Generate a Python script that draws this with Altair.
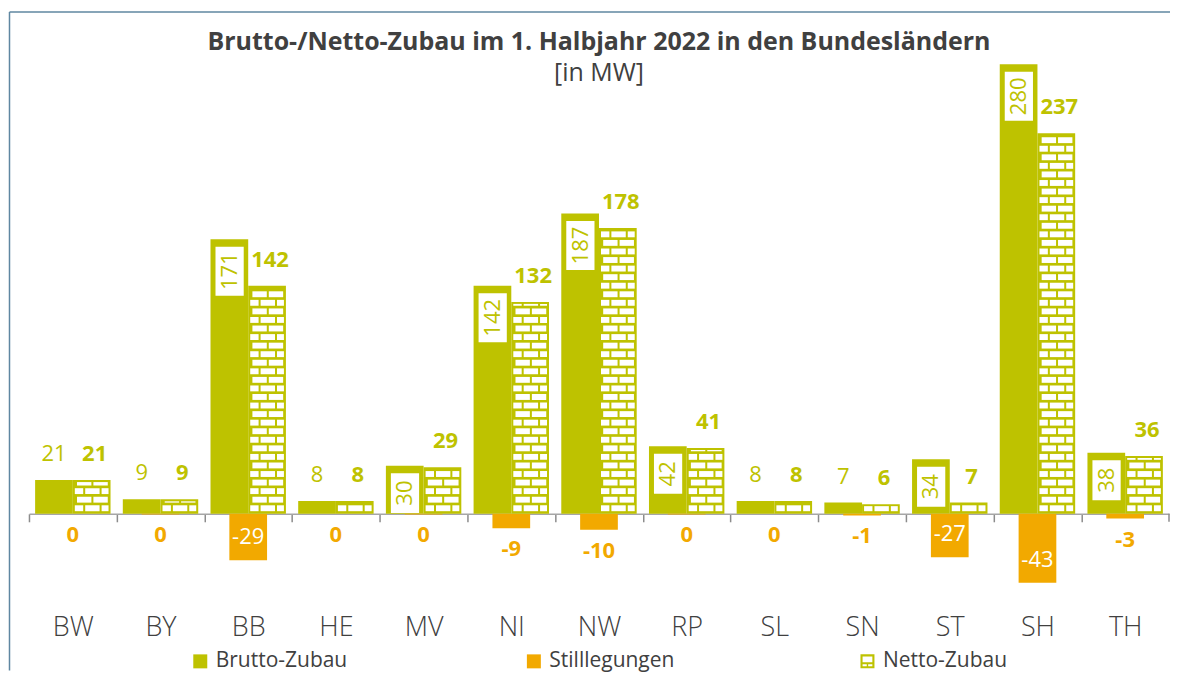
import json
import altair as alt
import pandas as pd

# ---------------- data ----------------
categories = ["BW", "BY", "BB", "HE", "MV", "NI", "NW", "RP", "SL", "SN", "ST", "SH", "TH"]
brutto = [21, 9, 171, 8, 30, 142, 187, 42, 8, 7, 34, 280, 38]
stilllegungen = [0, -0.4, -29, 0, -0.4, -9, -10, -0.4, 0, -1, -27, -43, -3]
netto = [21, 9, 142, 8, 29, 132, 178, 41, 8, 6, 7, 237, 36]
series = ["Brutto-Zubau", "Stilllegungen", "Netto-Zubau"]

title_text = "Brutto-/Netto-Zubau im 1. Halbjahr 2022 in den Bundesländern"
subtitle_text = "[in MW]"

# ---------------- style ----------------
GREEN = "#BEC200"
ORANGE = "#F2A900"
TEXT = "#404040"
FRAME = "#5F87A1"
FONT = "Open Sans"

N = len(categories)
BAND_PX = 87.8
W = BAND_PX * N
Y_MAX = 280
H = 450
PX_PER_MW = H / Y_MAX
BAR = 0.43  # bar width in band units


def lab(v):
    return str(int(round(v)))


df = pd.DataFrame({
    "cat": categories,
    "idx": list(range(N)),
    "brutto": brutto,
    "still": stilllegungen,
    "netto": netto,
})
df["zero"] = 0
df["b_l"] = df["idx"] - BAR
df["b_c"] = df["idx"] - BAR / 2
df["s_l"] = df["idx"] - BAR / 2
df["s_r"] = df["idx"] + BAR / 2
df["n_r"] = df["idx"] + BAR
df["n_c"] = df["idx"] + BAR / 2
df["b_lab"] = [lab(v) for v in brutto]
df["s_lab"] = [lab(v) for v in stilllegungen]
df["n_lab"] = [lab(v) for v in netto]
df["digits"] = [len(lab(v)) for v in brutto]

# brick texture for the Netto bars (derived from netto values)
bar_px = BAR * BAND_PX
border = 2.0
pitch, white_h, bottom_gap = 8.57, 5.9, 2.6
period, brick_w = 16.4, 14.4
bricks = []
for i, v in enumerate(netto):
    top = v * PX_PER_MW - border
    k = 0
    while True:
        y0 = bottom_gap + k * pitch
        if y0 > top - 0.8:
            break
        y1 = min(y0 + white_h, top)
        shift = 6.0 if k % 2 == 0 else 6.0 + period / 2
        j = 0
        while True:
            xs = border - shift + j * period
            if xs >= bar_px - border:
                break
            a = max(xs, border)
            b = min(xs + brick_w, bar_px - border)
            if b - a > 0.8:
                bricks.append({
                    "x": i + a / BAND_PX, "x2": i + b / BAND_PX,
                    "y": y0 / PX_PER_MW, "y2": y1 / PX_PER_MW,
                })
            j += 1
        k += 1
bricks_df = pd.DataFrame(bricks)

# ---------------- scales / axes ----------------
xscale = alt.Scale(domain=[-0.5, N - 0.5], nice=False, zero=False)
yscale = alt.Scale(domain=[0, Y_MAX], nice=False, zero=False)
label_expr = json.dumps(categories) + "[round(datum.value)]"
xaxis = alt.Axis(
    values=list(range(N)), labelExpr=label_expr,
    tickOffset=-BAND_PX / 2, labelOffset=BAND_PX / 2,
    tickSize=8, tickColor="#8C8C8C", tickWidth=1.5,
    domainColor="#A6A6A6", domainWidth=1.5,
    labelFont=FONT, labelFontSize=27, labelFontWeight=300, labelColor=TEXT,
    labelPadding=93, labelOverlap=False, labelFlush=False, labelBound=False,
    labelAlign="center", grid=False, title=None,
)

base = alt.Chart(df)

brutto_bars = base.mark_rect(color=GREEN).encode(
    x=alt.X("b_l:Q", scale=xscale, axis=xaxis, title=None),
    x2="idx:Q",
    y=alt.Y("brutto:Q", scale=yscale, axis=None),
    y2="zero:Q",
)
still_bars = base.mark_rect(color=ORANGE).encode(
    x=alt.X("s_l:Q", scale=xscale, title=None),
    x2="s_r:Q",
    y=alt.Y("still:Q", scale=yscale, axis=None),
    y2="zero:Q",
)
netto_bars = base.mark_rect(color=GREEN).encode(
    x=alt.X("idx:Q", scale=xscale, title=None),
    x2="n_r:Q",
    y=alt.Y("netto:Q", scale=yscale, axis=None),
    y2="zero:Q",
)
brick_layer = alt.Chart(bricks_df).mark_rect(color="white").encode(
    x=alt.X("x:Q", scale=xscale, title=None),
    x2="x2:Q",
    y=alt.Y("y:Q", scale=yscale, axis=None),
    y2="y2:Q",
)
# closing tick at the right end of the category axis
end_tick = alt.Chart(pd.DataFrame({"e": [N - 0.5]})).mark_rule(
    color="#8C8C8C", strokeWidth=1.5
).encode(
    x=alt.X("e:Q", scale=xscale, title=None),
    y=alt.value(H), y2=alt.value(H + 8),
)

# Brutto labels: small bars -> above; large bars -> boxed rotated label
b_small = base.transform_filter("datum.brutto < 25").mark_text(
    font=FONT, fontSize=22, color=GREEN, align="center", baseline="middle", dy=-26
).encode(
    x=alt.X("b_c:Q", scale=xscale, title=None),
    y=alt.Y("brutto:Q", scale=yscale, axis=None),
    text="b_lab:N",
)

box_layers = []
for digits, bh in [(2, 40), (3, 49)]:
    filt = f"datum.brutto >= 25 && datum.digits == {digits}"
    box = base.transform_filter(filt).mark_rect(
        color="white", xOffset=5, x2Offset=-4.5, yOffset=7.5, y2Offset=7.5 + bh
    ).encode(
        x=alt.X("b_l:Q", scale=xscale, title=None),
        x2="idx:Q",
        y=alt.Y("brutto:Q", scale=yscale, axis=None),
        y2="brutto:Q",
    )
    txt = base.transform_filter(filt).mark_text(
        font=FONT, fontSize=22, color=GREEN, angle=270, align="center",
        baseline="middle", yOffset=7.5 + bh / 2, xOffset=0.5,
    ).encode(
        x=alt.X("b_c:Q", scale=xscale, title=None),
        y=alt.Y("brutto:Q", scale=yscale, axis=None),
        text="b_lab:N",
    )
    box_layers += [box, txt]

n_text = base.mark_text(
    font=FONT, fontSize=22, fontWeight="bold", color=GREEN,
    align="center", baseline="middle", dy=-26, dx=3,
).encode(
    x=alt.X("n_c:Q", scale=xscale, title=None),
    y=alt.Y("netto:Q", scale=yscale, axis=None),
    text="n_lab:N",
)

s_small = base.transform_filter("datum.still > -20").mark_text(
    font=FONT, fontSize=22, fontWeight="bold", color=ORANGE,
    align="center", baseline="middle", dy=21,
).encode(
    x=alt.X("idx:Q", scale=xscale, title=None),
    y=alt.Y("still:Q", scale=yscale, axis=None),
    text="s_lab:N",
)
s_big = base.transform_filter("datum.still <= -20").mark_text(
    font=FONT, fontSize=22, color="white",
    align="center", baseline="middle", dy=-23,
).encode(
    x=alt.X("idx:Q", scale=xscale, title=None),
    y=alt.Y("still:Q", scale=yscale, axis=None),
    text="s_lab:N",
)

# legend (from an invisible point layer so every entry can have its own symbol)
netto_symbol = (
    "M-1,-1L1,-1L1,1L-1,1Z"
    "M-0.7,-0.7L-0.7,0.12L0.7,0.12L0.7,-0.7Z"
    "M-0.7,0.42L-0.7,0.7L-0.1,0.7L-0.1,0.42Z"
    "M0.1,0.42L0.1,0.7L0.7,0.7L0.7,0.42Z"
)
leg = alt.Legend(
    title=None, orient="none", legendX=161, legendY=587,
    direction="horizontal", columns=3, gridAlign="all", columnPadding=176,
    symbolSize=196, symbolOpacity=1, symbolStrokeWidth=0,
    labelFont=FONT, labelFontSize=21, labelColor=TEXT, labelLimit=400, labelOffset=5,
)
legend_layer = alt.Chart(pd.DataFrame({"series": series})).mark_point(
    filled=True, opacity=0
).encode(
    color=alt.Color("series:N", scale=alt.Scale(domain=series, range=[GREEN, ORANGE, GREEN]), legend=leg),
    shape=alt.Shape("series:N", scale=alt.Scale(domain=series, range=["square", "square", netto_symbol]), legend=leg),
)

# frame (decorative border around the figure)
one = pd.DataFrame({"d": [0]})
frame_top = alt.Chart(one).mark_rule(color=FRAME, strokeWidth=1.5).encode(
    x=alt.value(-19.5), x2=alt.value(W + 1), y=alt.value(-52.5)
)
frame_left = alt.Chart(one).mark_rule(color=FRAME, strokeWidth=1.5).encode(
    x=alt.value(-19.5), y=alt.value(-52.5), y2=alt.value(607)
)

chart = alt.layer(
    frame_top, frame_left,
    brutto_bars, still_bars, netto_bars, brick_layer, end_tick,
    b_small, *box_layers, n_text, s_small, s_big,
    legend_layer,
).properties(
    width=W, height=H,
    padding={"left": 0, "top": 2, "right": 0, "bottom": 0},
    title=alt.TitleParams(
        text=title_text, subtitle=subtitle_text,
        font=FONT, fontSize=25, fontWeight="bold", color=TEXT,
        subtitleFont=FONT, subtitleFontSize=25, subtitleColor=TEXT,
        subtitleFontWeight="normal", subtitlePadding=6,
        anchor="middle", frame="group", offset=-74.5,
    ),
).configure_view(stroke=None)

chart.save("out.html", embed_options={"renderer": "svg", "actions": False})
